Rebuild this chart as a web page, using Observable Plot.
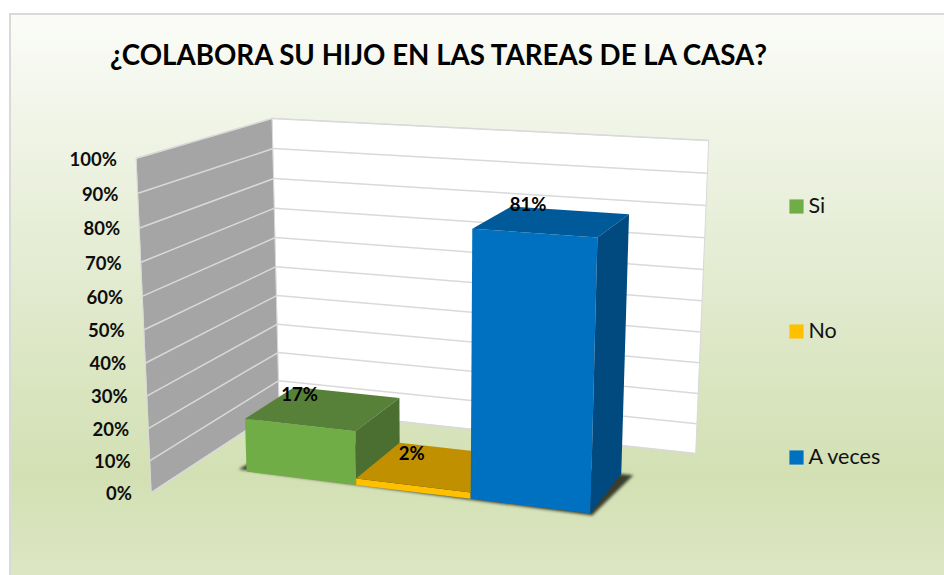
<!DOCTYPE html>
<html><head><meta charset="utf-8">
<script src="https://cdn.jsdelivr.net/npm/d3@7"></script>
<script src="https://cdn.jsdelivr.net/npm/@observablehq/plot@0.6"></script>
<style>html,body{margin:0;padding:0;background:#fff}svg{display:block}</style>
</head><body><div id="chart"></div>
<script>
const chartTitle = "¿COLABORA SU HIJO EN LAS TAREAS DE LA CASA?";
const series = ["Si", "No", "A veces"];
const values = [17, 2, 81];
const ticks = [0, 10, 20, 30, 40, 50, 60, 70, 80, 90, 100];
const tickLabels = ticks.map(d => d + "%");

const faceColors = ["#70ad47", "#ffc000", "#0070c0"];
const topColors = ["#578138", "#c09000", "#005a9a"];
const sideColors = ["#4a6f30", "#a67c00", "#004a80"];

// Projective camera of the 3D plot box: u along the category axis, w into the depth, v up the value axis
const cam = {g:-0.0887, h:0.159, a:420.7, b:172.36, c:151, d:12.1, e:-19.13, f:492, Vx:433, Vy:6750, H:-0.0507};
function project(u, v, w) {
  const s = cam.H * v / 100;
  const W = 1 + cam.g*u + cam.h*w + s;
  return [(cam.a*u + cam.b*w + cam.c + s*cam.Vx)/W, (cam.d*u + cam.e*w + cam.f + s*cam.Vy)/W];
}

const gap = 0.126, barW = 0.251, wFront = 0.295, wBack = 0.7;
const faces = [], shadows = [];
function poly(list, id, color, corners) {
  corners.forEach(c => { const [x,y]=project(...c); list.push({id,color,x,y}); });
}
series.forEach((name,i) => {
  const u0=gap+i*barW, u1=u0+barW, v=values[i];
  poly(faces,name+"-front",faceColors[i],[[u0,0,wFront],[u1,0,wFront],[u1,v,wFront],[u0,v,wFront]]);
  poly(faces,name+"-top",topColors[i],[[u0,v,wFront],[u1,v,wFront],[u1,v,wBack],[u0,v,wBack]]);
  poly(faces,name+"-side",sideColors[i],[[u1,0,wFront],[u1,0,wBack],[u1,v,wBack],[u1,v,wFront]]);
});
{
  const u0=gap, u1=gap+3*barW;
  poly(shadows,"shadow","#3a3d2c",[[u0-0.022,0,wFront+0.012],[u1,0,wFront-0.016],[u1+0.006,0,wFront-0.016],[u1+0.026,0,wBack],[u1,0,wBack],[u0,0,wBack]]);
}
const wallLeft=[], wallBack=[];
poly(wallLeft,"left","#a5a5a5",[[0,0,0],[0,0,1],[0,100,1],[0,100,0]]);
poly(wallBack,"back","#ffffff",[[0,0,1],[1,0,1],[1,100,1],[0,100,1]]);

const grid = [];
ticks.forEach(t=>{
  const a=project(0,t,0), b=project(0,t,1), c=project(1,t,1);
  grid.push({x1:a[0],y1:a[1],x2:b[0],y2:b[1]},{x1:b[0],y1:b[1],x2:c[0],y2:c[1]});
});
const tickData = ticks.map((t,i)=>{const p=project(0,t,0);return {label:tickLabels[i],x:p[0]-19.5,y:p[1]+1.5};});
const labelNudge = [[5,7.5],[12,11.5],[17,-1]];
const valueLabels = series.map((name,i)=>{
  const p=project(gap+i*barW,values[i],wBack);
  return {label:values[i]+"%",x:p[0]+labelNudge[i][0],y:p[1]+labelNudge[i][1]};
});
const legendY=[206,331,457];
const legend = series.map((name,i)=>({name,color:faceColors[i],y:legendY[i]}));

const defs = () => {
  const svg = d3.create("svg:defs");
  const g = svg.append("linearGradient").attr("id","bg").attr("gradientUnits","userSpaceOnUse")
    .attr("x1",0).attr("x2",0).attr("y1",13).attr("y2",600);
  [[0,"#fbfcf8"],[.15,"#f2f6ea"],[.5,"#e0e9cc"],[.79,"#d3e0b3"],[1,"#dfe8c8"]].forEach(([o,c])=>
    g.append("stop").attr("offset",o).attr("stop-color",c));
  return svg.node();
};
const polyMark=(data,opts={})=>Plot.line(data,{x:"x",y:"y",z:"id",fill:"color",stroke:null,curve:"linear-closed",...opts});

const plot = Plot.plot({
  width:944,height:575,margin:0,
  style:{background:"#fff"},
  x:{domain:[0,944],range:[0,944],axis:null},
  y:{domain:[0,575],range:[0,575],axis:null},
  color:{type:"identity"},
  marks:[
    defs,
    Plot.rect([0],{x1:()=>10,x2:()=>970,y1:()=>14,y2:()=>600,fill:"url(#bg)",stroke:"#d9d9d9",strokeWidth:2}),
    polyMark(wallLeft,{stroke:"#d9d9d9",strokeWidth:1}),
    polyMark(wallBack,{stroke:"#d9d9d9",strokeWidth:1}),
    Plot.link(grid,{x1:"x1",y1:"y1",x2:"x2",y2:"y2",stroke:"#d9d9d9",strokeWidth:1.5}),
    polyMark(shadows,{imageFilter:"blur(1.5px)"}),
    polyMark(faces),
    Plot.text([chartTitle],{x:()=>438,y:()=>56,text:d=>d,fontFamily:"Lato",fontWeight:700,fontSize:27.7,fill:"#000"}),
    Plot.text(tickData,{x:"x",y:"y",text:"label",textAnchor:"end",fontFamily:"Lato",fontWeight:700,fontSize:18.5,fill:"#0d0d0d"}),
    Plot.text(valueLabels,{x:"x",y:"y",text:"label",fontFamily:"Lato",fontWeight:700,fontSize:18.5,fill:"#000"}),
    Plot.dot(legend,{x:()=>796,y:"y",symbol:"square",r:8,fill:"color",stroke:null}),
    Plot.text(legend,{x:()=>808,y:"y",text:"name",textAnchor:"start",fontFamily:"Lato",fontSize:21.5,fill:"#111"})
  ]
});
document.getElementById("chart").append(plot);
</script></body></html>
